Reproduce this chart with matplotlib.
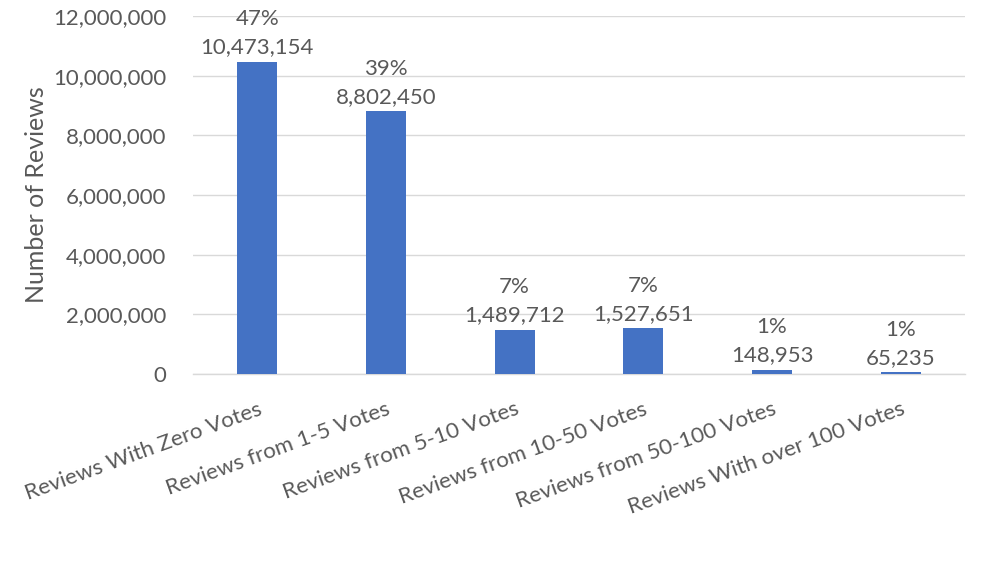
import matplotlib
matplotlib.use("Agg")
import matplotlib.pyplot as plt
from matplotlib.ticker import FuncFormatter

categories = ["Reviews With Zero Votes", "Reviews from 1-5 Votes", "Reviews from 5-10 Votes",
              "Reviews from 10-50 Votes", "Reviews from 50-100 Votes", "Reviews With over 100 Votes"]
values = [10473154, 8802450, 1489712, 1527651, 148953, 65235]
percents = ["47%", "39%", "7%", "7%", "1%", "1%"]

plt.rcParams['font.family'] = ['Lato', 'DejaVu Sans']
txt = '#595959'

fig = plt.figure(figsize=(9.82, 5.73), dpi=100)
ax = fig.add_axes([193/982, 1-374/573, (965-193)/982, (374-16)/573])
x = list(range(len(categories)))
ax.bar(x, values, width=0.31, color='#4472C4', zorder=3)
ax.set_xlim(-0.5, len(categories)-0.5)
ax.set_ylim(0, 12000000)
ax.set_yticks(range(0, 12000001, 2000000))
ax.yaxis.set_major_formatter(FuncFormatter(lambda v, p: f"{int(v):,}"))
ax.grid(axis='y', color='#D9D9D9', linewidth=1, zorder=0)
for s in ['top', 'right', 'left']:
    ax.spines[s].set_visible(False)
ax.spines['bottom'].set_color('#D9D9D9')
ax.spines['bottom'].set_linewidth(1)
ax.tick_params(axis='both', length=0, labelsize=16, labelcolor=txt)
ax.tick_params(axis='y', pad=19)
ax.set_xticks(x)
ax.set_xticklabels(categories, rotation=20, ha='right', va='top', rotation_mode='anchor')
ax.tick_params(axis='x', pad=18)
ax.set_ylabel("Number of Reviews", fontsize=18, color=txt, labelpad=4)
for xi, v, p in zip(x, values, percents):
    ax.annotate(f"{p}\n{v:,}", (xi, v), xytext=(0, 3), textcoords='offset points',
                ha='center', va='bottom', fontsize=16, color=txt, linespacing=1.5,
                annotation_clip=False)
fig.savefig("out.png", dpi=100)
